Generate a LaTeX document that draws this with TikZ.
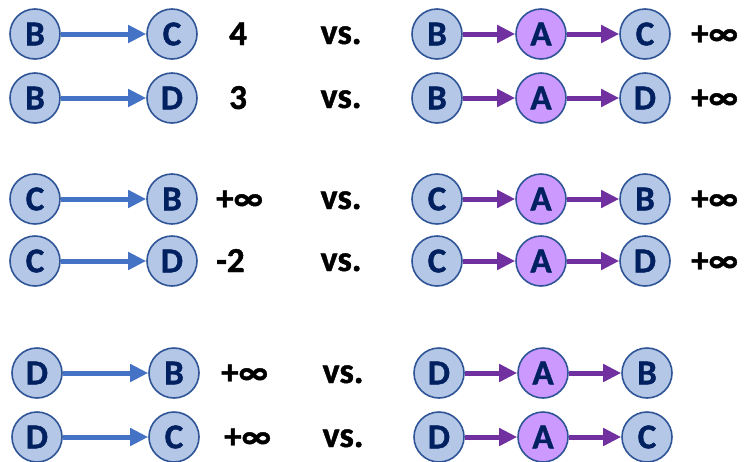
\documentclass[tikz,border=0pt]{standalone}
\usepackage{fontspec}
\setmainfont{Carlito}[BoldFeatures={FakeBold=1.2}]
\usetikzlibrary{arrows.meta}
\definecolor{nodeblue}{HTML}{B4C7E7}
\definecolor{nodepurple}{HTML}{CC99FF}
\definecolor{ringblue}{HTML}{2F5597}
\definecolor{letterblue}{HTML}{002060}
\definecolor{arrowblue}{HTML}{4472C4}
\definecolor{arrowpurple}{HTML}{7030A0}
\begin{document}
\begin{tikzpicture}[x=1pt,y=-1pt,
		vtx/.style={circle,draw=ringblue,fill=nodeblue,line width=1.6pt,minimum size=50pt,inner sep=0pt,
			text=letterblue,font=\fontsize{35}{35}\selectfont\bfseries},
		via/.style={vtx,fill=nodepurple},
		bluarr/.style={draw=arrowblue,line width=5pt,-{Triangle[length=18pt,width=17pt]}},
		purarr/.style={draw=arrowpurple,line width=5pt,-{Triangle[length=18pt,width=17pt]}},
		val/.style={anchor=base west,inner sep=0pt,font=\fontsize{35}{35}\selectfont\bfseries},
		vs/.style={anchor=base,inner sep=0pt,font=\fontsize{36}{36}\selectfont\bfseries}]
		\useasboundingbox (0,0) rectangle (745,461);
		\foreach \i/\y/\dx/\src/\dst/\val/\vx in {1/34/0/B/C/4/229,2/98/0/B/D/3/229,
			3/199/0/C/B/{+∞}/216,4/261/0/C/D/-2/216,5/373/2/D/B/{+∞}/221,6/437/2/D/C/{+∞}/224}
		{
			% direct edge and its value
			\node[vtx] (s\i) at (35+\dx,\y) {\src};
			\node[vtx] (d\i) at (172+\dx,\y) {\dst};
			\draw[bluarr] (s\i) -- (d\i);
			\node[val] (w\i) at (\vx,\y+11) {\val};
			\node[vs] (vs\i) at (341+\dx,\y+10) {vs.};
			% path through A
			\node[vtx] (p\i) at (437+\dx,\y) {\src};
			\node[via] (a\i) at (541+\dx,\y) {A};
			\node[vtx] (q\i) at (645+\dx,\y) {\dst};
			\draw[purarr] (p\i) -- (a\i);
			\draw[purarr] (a\i) -- (q\i);
		}
		\foreach \i/\y in {1/34,2/98,3/199,4/261}
		{
			\node[val] (u\i) at (691,\y+11) {+∞};
		}
	\end{tikzpicture}
\end{document}
